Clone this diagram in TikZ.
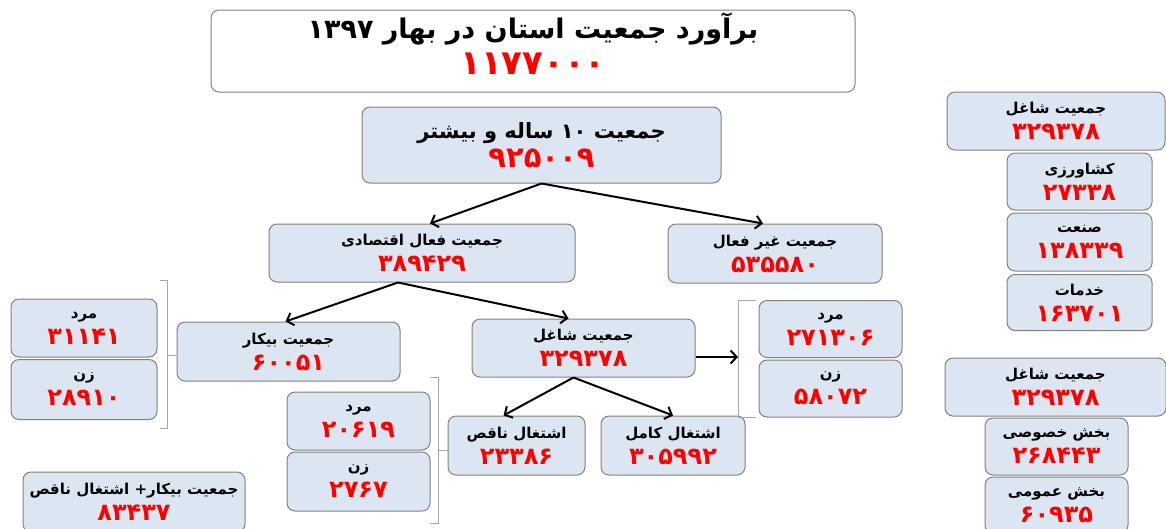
\documentclass[tikz,border=0pt]{standalone}
\usepackage{fontspec}
\usetikzlibrary{arrows.meta}
\TeXXeTstate=1
\newfontfamily\fafont[Script=Arabic]{DejaVu Sans}
\definecolor{boxfill}{HTML}{DCE6F2}
\definecolor{boxline}{HTML}{808080}
\definecolor{brkline}{HTML}{A6A6A6}
\newcommand{\lbl}[1]{{\fontsize{15}{18}\fafont\bfseries\beginR #1\endR}}
\newcommand{\amar}[1]{{\fontsize{24}{26}\fafont\bfseries\color{red}#1}}

\begin{document}
\begin{tikzpicture}[x=1pt, y=-1pt,
    box/.style={draw=boxline, fill=boxfill, line width=1pt, rounded corners=8pt,
        align=center, inner sep=0pt, font=\fontsize{15}{26}\selectfont},
    arr/.style={line width=2pt, -{Straight Barb[length=6pt, width=13pt, line width=2pt]}},
    brk/.style={draw=brkline, line width=0.8pt}]
        \useasboundingbox (0, 0) rectangle (1166, 528);

        \node[box, fill=white, minimum width=644, minimum height=82, text depth=15pt,
            font=\fontsize{27}{36}\selectfont] (total) at (533, 51)
            {{\fontsize{27}{30}\fafont\bfseries\beginR برآورد جمعیت استان در بهار ۱۳۹۷\endR}\\
             {\fontsize{34}{36}\fafont\bfseries\color{red}۱۱۷۷۰۰۰}};

        \node[box, minimum width=359, minimum height=76,
            font=\fontsize{21}{29}\selectfont] (ten) at (541.5, 145)
            {{\fontsize{21}{22}\fafont\bfseries\beginR جمعیت ۱۰ ساله و بیشتر\endR}\\
             {\fontsize{29}{30}\fafont\bfseries\color{red}۹۲۵۰۰۹}};

        \node[box, minimum width=306, minimum height=58] (faal) at (422, 253)
            {\lbl{جمعیت فعال اقتصادی}\\\amar{۳۸۹۴۲۹}};
        \node[box, minimum width=214, minimum height=59] (gheyr) at (775, 253.5)
            {\lbl{جمعیت غیر فعال}\\\amar{۵۳۵۵۸۰}};

        \node[box, minimum width=223, minimum height=59] (bikar) at (288.5, 351.5)
            {\lbl{جمعیت بیکار}\\\amar{۶۰۰۵۱}};
        \node[box, minimum width=223, minimum height=58] (shaghel) at (583.5, 348)
            {\lbl{جمعیت شاغل}\\\amar{۳۲۹۳۷۸}};

        \node[box, minimum width=146, minimum height=58] (mardA) at (84, 328)
            {\lbl{مرد}\\\amar{۳۱۱۴۱}};
        \node[box, minimum width=146, minimum height=60] (zanA) at (84, 389.5)
            {\lbl{زن}\\\amar{۲۸۹۱۰}};

        \node[box, minimum width=143, minimum height=58] (mardB) at (358.5, 421)
            {\lbl{مرد}\\\amar{۲۰۶۱۹}};
        \node[box, minimum width=143, minimum height=59] (zanB) at (358.5, 481.5)
            {\lbl{زن}\\\amar{۲۷۶۷}};

        \node[box, minimum width=137, minimum height=59] (naghes) at (516.5, 445.5)
            {\lbl{اشتغال ناقص}\\\amar{۲۳۳۸۶}};
        \node[box, minimum width=144, minimum height=59] (kamel) at (673, 445.5)
            {\lbl{اشتغال کامل}\\\amar{۳۰۵۹۹۲}};

        \node[box, minimum width=143, minimum height=57] (mardC) at (830.5, 329)
            {\lbl{مرد}\\\amar{۲۷۱۳۰۶}};
        \node[box, minimum width=143, minimum height=57] (zanC) at (830.5, 388.5)
            {\lbl{زن}\\\amar{۵۸۰۷۲}};

        \node[box, minimum width=222, minimum height=60] (majmu) at (134, 502)
            {\lbl{جمعیت بیکار+ اشتغال ناقص}\\\amar{۸۳۴۳۷}};

        % bakhsh-ha
        \node[box, minimum width=218, minimum height=58] (shaghelR) at (1056, 121)
            {\lbl{جمعیت شاغل}\\\amar{۳۲۹۳۷۸}};
        \node[box, minimum width=145, minimum height=57] (keshavarzi) at (1079.5, 181.5)
            {\lbl{کشاورزی}\\\amar{۲۷۳۳۸}};
        \node[box, minimum width=145, minimum height=58] (sanat) at (1079.5, 242)
            {\lbl{صنعت}\\\amar{۱۳۸۳۳۹}};
        \node[box, minimum width=145, minimum height=56] (khadamat) at (1079.5, 302.5)
            {\lbl{خدمات}\\\amar{۱۶۳۷۰۱}};

        \node[box, minimum width=221, minimum height=58] (shaghelS) at (1055.5, 387)
            {\lbl{جمعیت شاغل}\\\amar{۳۲۹۳۷۸}};
        \node[box, minimum width=143, minimum height=57] (khosusi) at (1056.5, 446.5)
            {\lbl{بخش خصوصی}\\\amar{۲۶۸۴۴۳}};
        \node[box, minimum width=143, minimum height=56] (omumi) at (1056.5, 505)
            {\lbl{بخش عمومی}\\\amar{۶۰۹۳۵}};

        % peykan-ha
        \draw[arr] (ten.south) -- ([xshift=8]faal.north);
        \draw[arr] (ten.south) -- ([xshift=-12]gheyr.north);
        \draw[arr] ([xshift=-24]faal.south) -- ([xshift=-3]bikar.north);
        \draw[arr] ([xshift=-24]faal.south) -- ([xshift=-15]shaghel.north);
        \draw[arr] ([xshift=-10]shaghel.south) -- ([xshift=-13]naghes.north);
        \draw[arr] ([xshift=-10]shaghel.south) -- (kamel.north);

        % korooshe-ha
        \coordinate (brkC) at (738, 357);
        \draw[arr] (shaghel.east |- brkC) -- (brkC);
        \draw[brk] (756, 300) -- (738, 300) -- (738, 417) -- (756, 417);
        \draw[brk] (160, 280) -- (167, 280) -- (167, 428) -- (160, 428);
        \draw[brk] (167, 355) -- (bikar.west |- 0, 355);
        \draw[brk] (430, 377) -- (438, 377) -- (438, 523) -- (430, 523);
        \draw[brk] (438, 450) -- (naghes.west |- 0, 450);
\end{tikzpicture}
\end{document}
